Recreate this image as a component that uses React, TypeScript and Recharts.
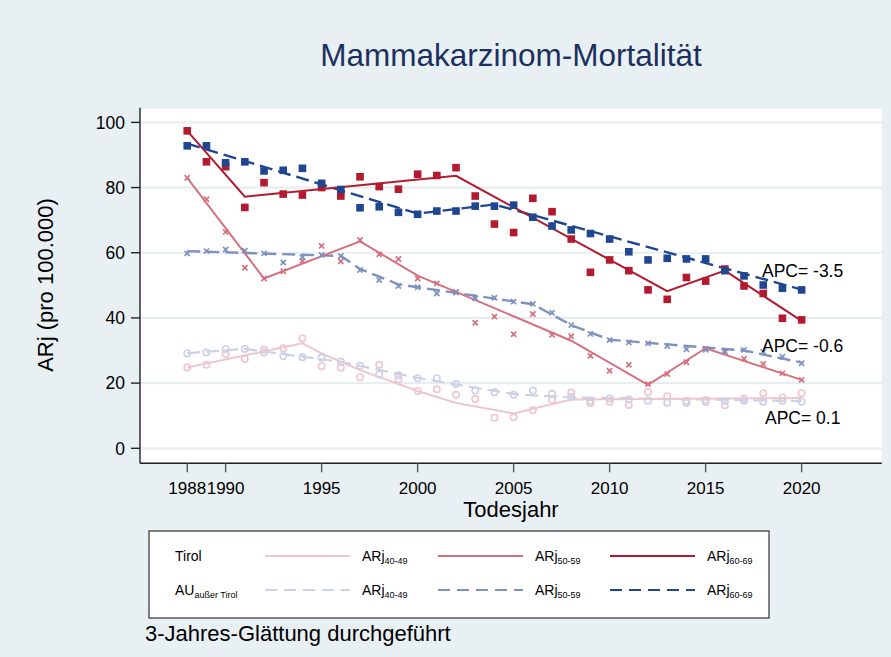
import React from 'react';
import { ComposedChart, Line, Scatter, XAxis, YAxis, CartesianGrid } from 'recharts';

const years = [1988, 1989, 1990, 1991, 1992, 1993, 1994, 1995, 1996, 1997, 1998, 1999, 2000, 2001, 2002, 2003, 2004, 2005, 2006, 2007, 2008, 2009, 2010, 2011, 2012, 2013, 2014, 2015, 2016, 2017, 2018, 2019, 2020];

// raw (3-year smoothed) rates
const tirol6069 = [97.4, 87.9, 86.4, 73.9, 81.5, 78.0, 77.7, 80.0, 77.4, 83.3, 80.3, 79.5, 84.1, 83.7, 86.1, 77.4, 68.8, 66.2, 76.7, 72.6, 64.2, 54.0, 57.8, 54.5, 48.6, 45.7, 52.4, 51.3, 55.0, 49.8, 47.5, 39.9, 39.4];
const au6069 = [92.8, 92.8, 87.6, 87.9, 85.1, 85.3, 85.9, 81.3, 79.4, 73.8, 74.1, 72.4, 71.8, 72.8, 72.8, 74.3, 74.3, 74.6, 70.9, 68.2, 67.0, 65.9, 64.2, 60.3, 57.8, 58.3, 58.1, 58.1, 54.5, 52.9, 50.1, 49.1, 48.6];
const tirol5059 = [83.0, 76.4, 66.4, 55.4, 52.1, 54.3, 57.5, 62.1, 57.4, 63.9, 59.5, 58.1, 52.1, 50.6, 48.0, 38.5, 40.4, 35.0, 41.2, 34.8, 34.4, 28.4, 23.8, 25.6, 19.7, 22.8, 26.4, 30.5, 29.5, 27.5, 25.9, 23.0, 21.0];
const au5059 = [59.8, 60.5, 61.0, 60.6, 59.8, 57.0, 58.6, 59.3, 59.0, 54.7, 51.6, 49.8, 49.4, 47.5, 47.8, 46.0, 46.2, 45.0, 44.3, 41.6, 37.8, 35.1, 33.2, 32.5, 32.2, 31.4, 30.4, 30.2, 29.8, 30.2, 29.6, 28.1, 26.1];
const tirol4049 = [24.8, 25.6, 28.9, 27.4, 30.2, 30.7, 33.7, 25.2, 24.7, 21.8, 25.6, 21.2, 17.6, 18.1, 16.4, 15.1, 9.4, 9.5, 11.7, 14.8, 17.1, 13.8, 14.3, 13.3, 17.2, 16.0, 14.6, 14.8, 13.2, 15.2, 16.9, 15.6, 16.9];
const au4049 = [29.1, 29.4, 30.5, 30.5, 29.4, 28.3, 27.9, 27.8, 26.6, 25.3, 22.7, 22.4, 21.5, 21.5, 19.7, 17.7, 17.2, 16.4, 17.7, 16.7, 15.8, 14.5, 15.3, 15.0, 14.6, 14.0, 14.0, 14.2, 14.4, 14.6, 14.3, 14.6, 14.3];

// joinpoint fitted lines (vertices)
const fitTirol6069Years = [1988, 1991, 2002, 2013, 2016, 2020];
const fitTirol6069 = [97.4, 77.2, 83.6, 48.2, 54.5, 39.1];
const fitAu6069Years = [1988, 2000, 2004, 2020];
const fitAu6069 = [93.5, 72.0, 74.8, 48.7];
const fitTirol5059Years = [1988, 1992, 1997, 2000, 2008, 2012, 2015, 2020];
const fitTirol5059 = [83.0, 52.1, 63.5, 53.0, 33.0, 19.5, 30.7, 21.0];
const fitAu5059Years = [1988, 1996, 1997, 1999, 2006, 2008, 2010, 2017, 2020];
const fitAu5059 = [60.5, 59.0, 55.0, 50.3, 44.2, 37.8, 33.3, 30.0, 26.3];
const fitTirol4049Years = [1988, 1994, 1995, 1997, 2000, 2002, 2005, 2008, 2020];
const fitTirol4049 = [24.8, 32.2, 29.1, 24.0, 17.6, 13.9, 10.7, 15.0, 15.4];
const fitAu4049Years = [1988, 1991, 1996, 2000, 2005, 2008, 2020];
const fitAu4049 = [29.2, 30.5, 26.5, 21.6, 16.6, 15.6, 14.5];

const xTicks = [1988, 1990, 1995, 2000, 2005, 2010, 2015, 2020];
const yTicks = [0, 20, 40, 60, 80, 100];

const C_T60 = '#b11a2f';
const C_A60 = '#1f4690';
const C_T50 = '#d4717e';
const C_A50 = '#7e92c0';
const C_T40 = '#efc6cd';
const C_A40 = '#ccd2e6';

const FONT = '"Liberation Sans", Arial, Helvetica, sans-serif';

const pts = (xs: number[], ys: number[]) => xs.map((x, i) => ({ x, y: ys[i] }));

const squareShape = (color: string) => (p: any) =>
  p.cx == null ? <g /> : <rect x={p.cx - 3.8} y={p.cy - 3.8} width={7.6} height={7.6} fill={color} />;
const crossShape = (color: string) => (p: any) =>
  p.cx == null ? <g /> : (
    <path
      d={`M${p.cx - 2.6},${p.cy - 2.6}L${p.cx + 2.6},${p.cy + 2.6}M${p.cx - 2.6},${p.cy + 2.6}L${p.cx + 2.6},${p.cy - 2.6}`}
      stroke={color}
      strokeWidth={1.7}
      fill="none"
    />
  );
const ringShape = (color: string) => (p: any) =>
  p.cx == null ? <g /> : <circle cx={p.cx} cy={p.cy} r={3.2} fill="none" stroke={color} strokeWidth={1.6} />;

const DASH = '13 6';

const LegendRow = ({ y, label, sub, dashed, colors }: any) => (
  <g>
    <text x={175} y={y + 5} fontSize={14} fontFamily={FONT} fill="#000">
      {label}
      {sub ? <tspan fontSize={9} dy={3}>{sub}</tspan> : null}
    </text>
    {[
      [265, 350, 362, '40-49'],
      [438, 523, 535, '50-59'],
      [610, 695, 707, '60-69'],
    ].map((c: any, i: number) => (
      <g key={i}>
        <line x1={c[0]} x2={c[1]} y1={y} y2={y} stroke={colors[i]} strokeWidth={2.2} strokeDasharray={dashed ? '12 7' : undefined} />
        <text x={c[2]} y={y + 5} fontSize={14} fontFamily={FONT} fill="#000">
          ARj<tspan fontSize={9} dy={3}>{c[3]}</tspan>
        </text>
      </g>
    ))}
  </g>
);

export default function App() {
  return (
    <div style={{ position: 'absolute', left: 0, top: 0, width: 891, height: 657, background: '#e9f0f3', fontFamily: FONT }}>
      <ComposedChart
        width={891}
        height={657}
        margin={{ top: 107.7, right: 9.3, left: 80, bottom: 153.7 }}
      >
        <CartesianGrid vertical={false} stroke="#e7eef1" strokeWidth={2.2} fill="#ffffff" />
        <XAxis
          dataKey="x"
          type="number"
          domain={[1985.54, 2024.17]}
          allowDataOverflow
          ticks={xTicks}
          interval={0}
          height={40}
          tickSize={9}
          tickMargin={10}
          tick={{ fontSize: 17, fill: '#000', fontFamily: FONT }}
          axisLine={{ stroke: '#222', strokeWidth: 1.4 }}
          tickLine={{ stroke: '#555', strokeWidth: 1.4 }}
        />
        <YAxis
          dataKey="y"
          type="number"
          domain={[-4.6, 104.5]}
          allowDataOverflow
          ticks={yTicks}
          interval={0}
          width={60}
          tickSize={9}
          tickMargin={6}
          tick={{ fontSize: 17.5, fill: '#000', fontFamily: FONT }}
          axisLine={{ stroke: '#222', strokeWidth: 1.4 }}
          tickLine={{ stroke: '#222', strokeWidth: 1.4 }}
        />
        <Line data={pts(fitAu4049Years, fitAu4049)} dataKey="y" type="linear" stroke={C_A40} strokeWidth={2.2} strokeDasharray={DASH} dot={false} isAnimationActive={false} />
        <Line data={pts(fitTirol4049Years, fitTirol4049)} dataKey="y" type="linear" stroke={C_T40} strokeWidth={2} dot={false} isAnimationActive={false} />
        <Line data={pts(fitAu5059Years, fitAu5059)} dataKey="y" type="linear" stroke={C_A50} strokeWidth={2.4} strokeDasharray={DASH} dot={false} isAnimationActive={false} />
        <Line data={pts(fitTirol5059Years, fitTirol5059)} dataKey="y" type="linear" stroke={C_T50} strokeWidth={2} dot={false} isAnimationActive={false} />
        <Line data={pts(fitAu6069Years, fitAu6069)} dataKey="y" type="linear" stroke={C_A60} strokeWidth={2.4} strokeDasharray={DASH} dot={false} isAnimationActive={false} />
        <Line data={pts(fitTirol6069Years, fitTirol6069)} dataKey="y" type="linear" stroke={C_T60} strokeWidth={2} dot={false} isAnimationActive={false} />
        <Scatter data={pts(years, tirol4049)} dataKey="y" shape={ringShape(C_T40)} isAnimationActive={false} />
        <Scatter data={pts(years, au4049)} dataKey="y" shape={ringShape(C_A40)} isAnimationActive={false} />
        <Scatter data={pts(years, tirol5059)} dataKey="y" shape={crossShape(C_T50)} isAnimationActive={false} />
        <Scatter data={pts(years, au5059)} dataKey="y" shape={crossShape(C_A50)} isAnimationActive={false} />
        <Scatter data={pts(years, tirol6069)} dataKey="y" shape={squareShape(C_T60)} isAnimationActive={false} />
        <Scatter data={pts(years, au6069)} dataKey="y" shape={squareShape(C_A60)} isAnimationActive={false} />
      </ComposedChart>
      <svg width={891} height={657} style={{ position: 'absolute', left: 0, top: 0, pointerEvents: 'none' }}>
        <text x={511} y={66} textAnchor="middle" fontSize={31.5} fontFamily={FONT} fill="#1c3060">Mammakarzinom-Mortalität</text>
        <text transform="translate(53,285) rotate(-90)" textAnchor="middle" fontSize={22} fontFamily={FONT} fill="#000">ARj (pro 100.000)</text>
        <text x={511} y={517} textAnchor="middle" fontSize={22} fontFamily={FONT} fill="#000">Todesjahr</text>
        <text x={762} y={277} fontSize={17.5} fontFamily={FONT} fill="#000">APC= -3.5</text>
        <text x={762} y={352} fontSize={17.5} fontFamily={FONT} fill="#000">APC= -0.6</text>
        <text x={765} y={424} fontSize={17.5} fontFamily={FONT} fill="#000">APC= 0.1</text>
        <rect x={149} y={531} width={620} height={87} fill="#fff" stroke="#333" strokeWidth={1.2} />
        <LegendRow y={556} label="Tirol" colors={[C_T40, C_T50, C_T60]} />
        <LegendRow y={590} label="AU" sub="außer Tirol" dashed colors={[C_A40, C_A50, C_A60]} />
        <text x={145} y={641} fontSize={22} fontFamily={FONT} fill="#000">3-Jahres-Glättung durchgeführt</text>
      </svg>
    </div>
  );
}
